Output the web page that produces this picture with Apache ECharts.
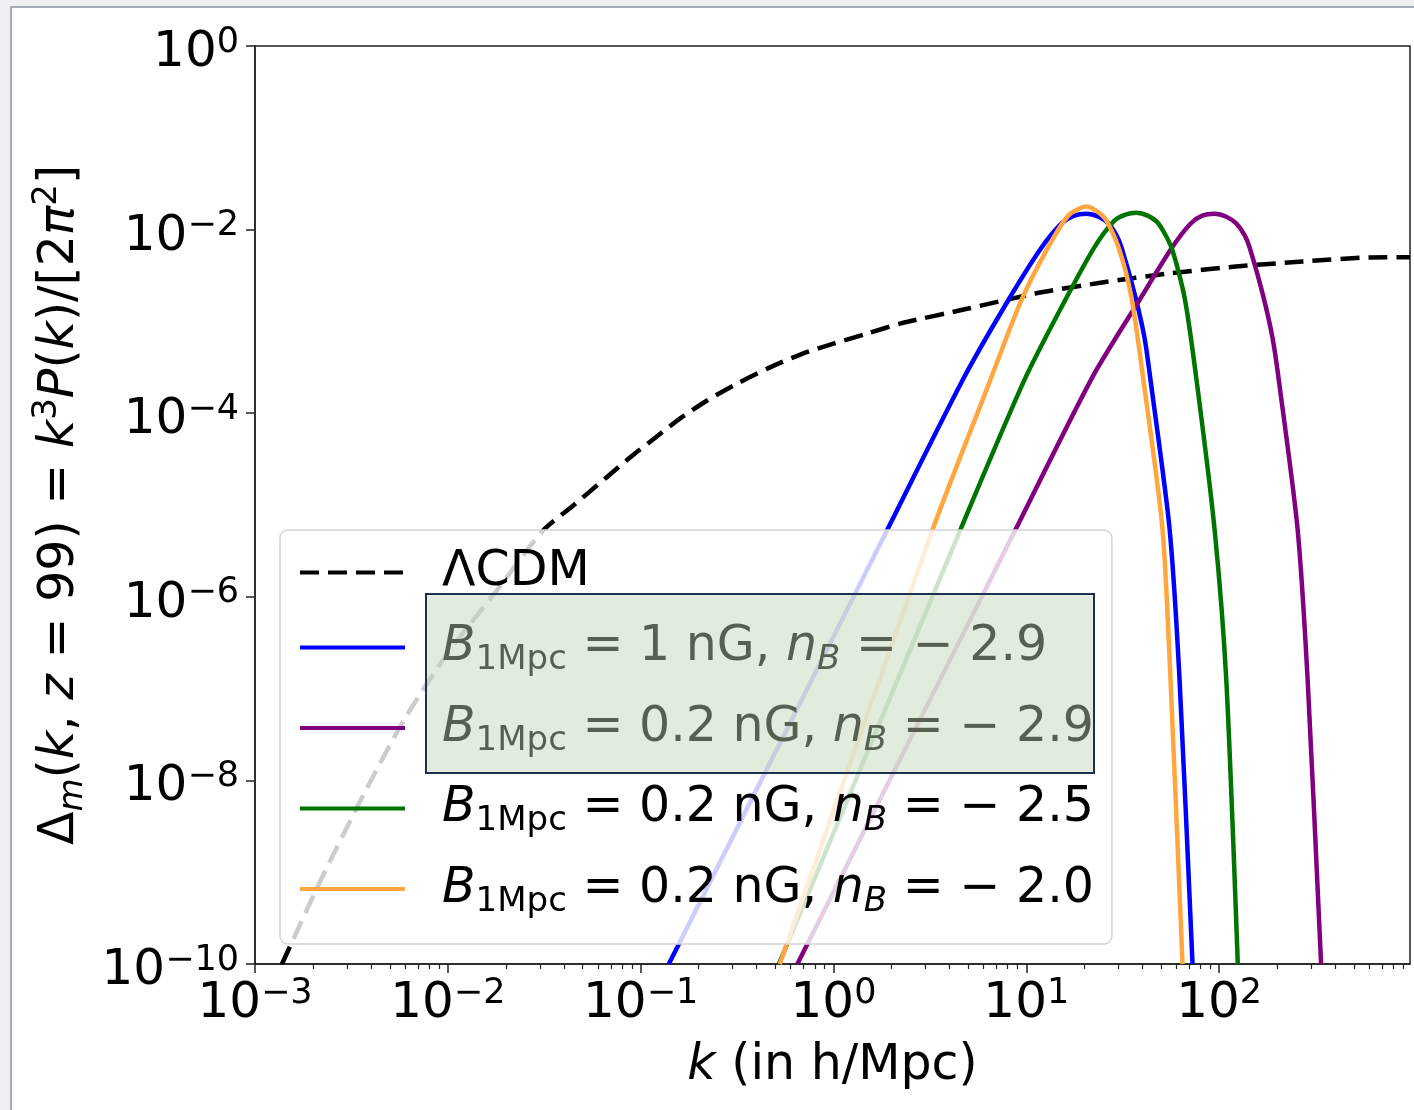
<!DOCTYPE html>
<html>
<head>
<meta charset="utf-8">
<script src="https://cdn.jsdelivr.net/npm/echarts@6/dist/echarts.min.js"></script>
<style>
  html, body { margin: 0; padding: 0; overflow: hidden; background: #eef0f3; }
  #frame { position: absolute; left: 10px; top: 6px; width: 1420px; height: 1120px; background: #fff; border: 2px solid #a4acb8; }
  #chart { position: absolute; left: 0; top: 0; width: 1414px; height: 1110px; }
</style>
</head>
<body>
<div id="frame"></div>
<div id="chart"></div>
<script>
// k in h/Mpc, Delta_m dimensionless
const kLcdm = [1.38e-3, 2.23e-3, 3.73e-3, 6.03e-3, 1.01e-2, 1.77e-2, 3.10e-2, 4.44e-2, 6.58e-2, 8.87e-2, 0.120, 0.161, 0.218, 0.304, 0.457, 0.678, 1.01, 1.51, 2.24, 5.00, 11.1, 24.7, 55.2, 122, 271, 605, 977]
const dLcdm = [1.0e-10, 8.83e-10, 7.59e-9, 4.84e-8, 2.52e-7, 1.13e-6, 5.21e-6, 9.75e-6, 1.96e-5, 3.33e-5, 5.48e-5, 8.83e-5, 1.35e-4, 2.01e-4, 3.08e-4, 4.38e-4, 5.77e-4, 7.41e-4, 9.51e-4, 1.38e-3, 2.01e-3, 2.65e-3, 3.33e-3, 3.96e-3, 4.49e-3, 4.97e-3, 5.0e-3]

// B = 1 nG, nB = -2.9
const kB1n29 = [0.140, 1.92, 4.76, 8.05, 12.0, 15.2, 17.7, 20.5, 23.7, 26.7, 29.4, 31.2, 36.4, 41.0, 44.1, 55.3, 62.4, 72.8]
const dB1n29 = [1e-10, 5.6e-6, 2.46e-4, 1.69e-3, 6.37e-3, 1.16e-2, 1.42e-2, 1.49e-2, 1.38e-2, 1.16e-2, 8.61e-3, 6.37e-3, 2.02e-3, 6.70e-4, 2.29e-4, 5.6e-6, 1.22e-7, 1e-10]

// B = 0.2 nG, nB = -2.9
const kB02n29 = [0.650, 8.87, 22.0, 38.5, 57.0, 71.0, 81.8, 94.7, 109, 123, 136, 144, 168, 189, 204, 255, 288, 338]
const dB02n29 = [1e-10, 5.6e-6, 2.46e-4, 1.69e-3, 6.37e-3, 1.16e-2, 1.42e-2, 1.49e-2, 1.38e-2, 1.16e-2, 8.61e-3, 6.37e-3, 2.02e-3, 6.70e-4, 2.29e-4, 5.6e-6, 1.22e-7, 1e-10]

// B = 0.2 nG, nB = -2.5
const kB02n25 = [0.521, 4.59, 9.77, 15.2, 22.5, 28.6, 32.7, 37.2, 42.6, 48.5, 56.6, 66.2, 76.4, 94.8, 109, 125]
const dB02n25 = [1e-10, 5.6e-6, 2.29e-4, 1.42e-3, 6.37e-3, 1.25e-2, 1.46e-2, 1.53e-2, 1.42e-2, 1.16e-2, 6.37e-3, 1.82e-3, 2.29e-4, 5.35e-6, 1.22e-7, 1e-10]

// B = 0.2 nG, nB = -2.0
const kB02n20 = [0.527, 3.29, 6.35, 9.42, 12.7, 16.5, 20.5, 25.4, 30.1, 35.1, 40.5, 50.8, 56.0, 64.6]
const dB02n20 = [1e-10, 5.6e-6, 2.01e-4, 1.69e-3, 5.91e-3, 1.42e-2, 1.78e-2, 1.35e-2, 6.37e-3, 1.82e-3, 2.29e-4, 5.6e-6, 1.22e-7, 1e-10]

// tick exponents
const xTickExp = [-3, -2, -1, 0, 1, 2]
const yTickExp = [-10, -8, -6, -4, -2, 0]

const FONT = 'DejaVu Sans'
const rich = {
  n: { fontFamily: FONT, fontSize: 49, lineHeight: 60, color: '#000' },
  n0: { fontFamily: FONT, fontSize: 49, lineHeight: 32, color: '#000' },
  i: { fontFamily: FONT, fontSize: 49, lineHeight: 60, fontStyle: 'italic', color: '#000' },
  sub: { fontFamily: FONT, fontSize: 34, lineHeight: 30, verticalAlign: 'bottom', color: '#000' },
  subi: { fontFamily: FONT, fontSize: 34, lineHeight: 30, verticalAlign: 'bottom', fontStyle: 'italic', color: '#000' },
  sup: { fontFamily: FONT, fontSize: 34, lineHeight: 30, verticalAlign: 'top', color: '#000' },
  gap: { width: 32, lineHeight: 10 }
}

const tickRich = {
  b: { fontFamily: FONT, fontSize: 50, lineHeight: 56, color: '#000' },
  s: { fontFamily: FONT, fontSize: 35, lineHeight: 30, verticalAlign: 'top', color: '#000' }
}
const powLabel = v => '{b|10}{s|' + String(Math.round(v)).replace('-', '\u2212') + '}'

const legendText = {
  'ΛCDM': '{gap| }{n0|ΛCDM}',
  'b1n29': '{gap| }{i|B}{sub|1Mpc}{n| = 1 nG, }{i|n}{subi|B}{n| = \u2212 2.9}',
  'b02n29': '{gap| }{i|B}{sub|1Mpc}{n| = 0.2 nG, }{i|n}{subi|B}{n| = \u2212 2.9}',
  'b02n25': '{gap| }{i|B}{sub|1Mpc}{n| = 0.2 nG, }{i|n}{subi|B}{n| = \u2212 2.5}',
  'b02n20': '{gap| }{i|B}{sub|1Mpc}{n| = 0.2 nG, }{i|n}{subi|B}{n| = \u2212 2.0}'
}

const minorTicks = []
for (let e = -3; e <= 2; e++) {
  for (let m = 2; m <= 9; m++) {
    const v = e + Math.log10(m)
    if (v < 2.99) minorTicks.push(v)
  }
}

const toPts = (k, d) => k.map((v, i) => [Math.log10(v), Math.log10(d[i])])

const makeLine = (name, k, d, color, dashed) => ({
  name,
  type: 'line',
  symbol: 'none',
  smooth: 0.25,
  data: toPts(k, d),
  itemStyle: { color },
  lineStyle: { color, width: 4.5, type: dashed ? [19, 9] : 'solid' }
})

const chart = echarts.init(document.getElementById('chart'))

const option = {
  animation: false,
  grid: {
    left: 255,
    right: 4,
    top: 46,
    bottom: 146,
    show: true,
    borderColor: '#222',
    borderWidth: 1.5
  },
  legend: {
    orient: 'vertical',
    left: 280,
    top: 530,
    itemWidth: 105,
    itemHeight: 20,
    itemGap: 26,
    padding: [18, 18, 25, 18],
    backgroundColor: 'rgba(255,255,255,0.8)',
    borderColor: '#d4d4d4',
    borderWidth: 1.5,
    borderRadius: 8,
    itemStyle: { opacity: 0 },
    lineStyle: { width: 4 },
    data: ['ΛCDM', 'b1n29', 'b02n29', 'b02n25', 'b02n20'],
    formatter: name => legendText[name],
    textStyle: { rich }
  },
  xAxis: [
    {
      type: 'value',
      min: -3,
      max: 2.99,
      name: '{i|k}{n| (in h/Mpc)}',
      nameLocation: 'middle',
      nameGap: 72,
      nameTextStyle: { rich },
      axisLine: { show: true, onZero: false, lineStyle: { color: '#222', width: 1.5 } },
      axisTick: { show: true, length: 9, customValues: xTickExp, lineStyle: { color: '#222', width: 1.5 } },
      axisLabel: { customValues: xTickExp, margin: 12, formatter: powLabel, rich: tickRich },
      splitLine: { show: false }
    },
    {
      type: 'value',
      min: -3,
      max: 2.99,
      position: 'bottom',
      axisLine: { show: false, onZero: false },
      axisTick: { show: true, length: 5, customValues: minorTicks, lineStyle: { color: '#222', width: 1.2 } },
      axisLabel: { show: false },
      splitLine: { show: false }
    }
  ],
  yAxis: {
    type: 'value',
    min: -10,
    max: 0,
    interval: 2,
    name: '{n|Δ}{subi|m}{n|(}{i|k}{n|, }{i|z}{n| = 99) = }{i|k}{sup|3}{i|P}{n|(}{i|k}{n|)/[2}{i|π}{sup|2}{n|]}',
    nameLocation: 'middle',
    nameRotate: 90,
    nameGap: 163,
    nameTextStyle: { rich },
    axisLine: { show: true, onZero: false, lineStyle: { color: '#222', width: 1.5 } },
    axisTick: { show: true, length: 9, customValues: yTickExp, lineStyle: { color: '#222', width: 1.5 } },
    axisLabel: { customValues: yTickExp, margin: 16, padding: [14, 0, 0, 0], formatter: powLabel, rich: tickRich },
    splitLine: { show: false }
  },
  graphic: [
    {
      type: 'rect',
      z: 100,
      left: 425,
      top: 593,
      shape: { width: 668, height: 179 },
      style: { fill: 'rgba(190,212,179,0.45)', stroke: '#1f3050', lineWidth: 2 }
    }
  ],
  series: [
    makeLine('ΛCDM', kLcdm, dLcdm, '#000000', true),
    makeLine('b1n29', kB1n29, dB1n29, '#0000ff', false),
    makeLine('b02n29', kB02n29, dB02n29, '#800080', false),
    makeLine('b02n25', kB02n25, dB02n25, '#007400', false),
    makeLine('b02n20', kB02n20, dB02n20, '#ffa640', false)
  ]
}

chart.setOption(option)
</script>
</body>
</html>
